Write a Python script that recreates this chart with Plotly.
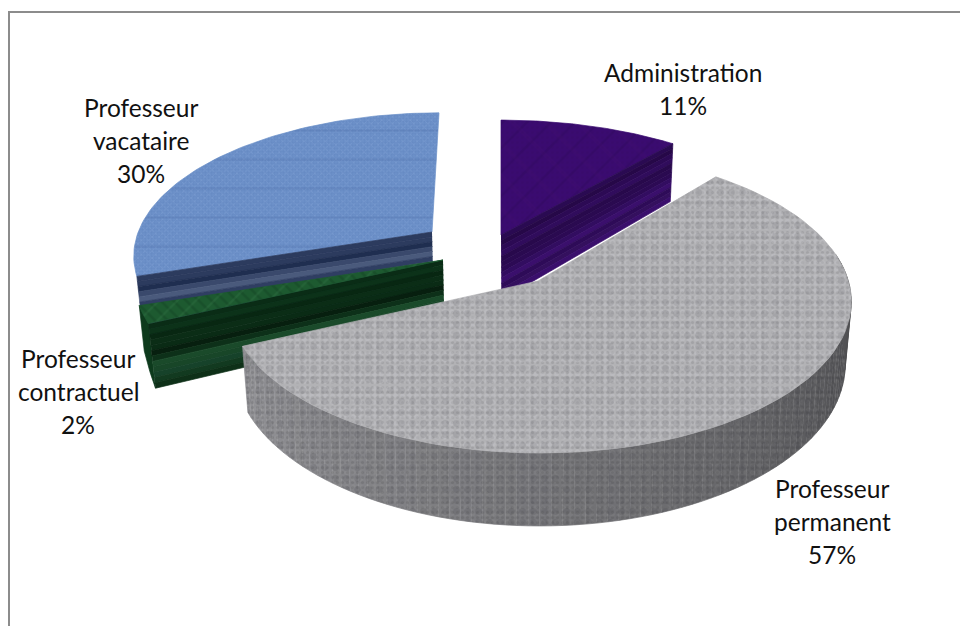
import numpy as np
import plotly.graph_objects as go

# ---- data ----
categories = ["Administration", "Professeur permanent", "Professeur contractuel", "Professeur vacataire"]
values = [11, 57, 2, 30]

# ---- drawing setup (one entry per category) ----
centers = [(501, 235), (540, 279), (443, 260), (432, 232)]
apexes = [(501, 235), (538, 281), (443, 260), (432, 232)]
scales = [0.93, 1.0, 0.97, 0.945]
x_factor = [1.03, 0.98, 1.0, 0.99]
y_factor = [0.98, 1.02, 1.0, 1.0]
depth_factor = [1.12, 1.0, 1.0, 1.0]
tilts = [0, 0, 0, 7]
top_base = ["#3a0b70", "#b2b2b5", "#1d5a30", "#6c90c8"]
top_textures = [
    [("/", 17, "rgba(30,5,70,0.35)", 0.15), ("\\", 23, "rgba(70,15,110,0.4)", 0.15), (".", 5, "rgba(50,10,90,0.35)", 0.3)],
    [(".", 5, "rgba(120,120,125,0.55)", 0.3), (".", 7, "rgba(215,215,218,0.45)", 0.35), (".", 11, "rgba(110,110,115,0.4)", 0.3)],
    [("\\", 9, "rgba(10,50,25,0.5)", 0.3), ("/", 13, "rgba(80,150,100,0.3)", 0.15)],
    [("x", 5, "rgba(170,198,236,0.45)", 0.22), ("+", 3, "rgba(60,95,160,0.35)", 0.25), ("-", 29, "rgba(50,80,140,0.3)", 0.08)],
]
wall_stripes = [
    ["#2a0a52", "#260848", "#2c0a54", "#300c5c", "#28094c", "#2a0a50", "#2c0a54", "#320d60", "#3a0f6c", "#2e0b58", "#34105e", "#3a0f6c"],
    None,
    ["#0a2c16", "#0c3219", "#082712", "#0b2d16", "#0a2b15", "#071f0f", "#0d3019", "#1a4a2a", "#184628", "#16422a", "#123a20", "#0e3018"],
    ["#2c3b5e", "#2c3b5e", "#1f2e50", "#3a496c", "#4a5a7c", "#2f3e62", "#414f72", "#3c4b6e", "#2a3a5c", "#4a5a7c", "#55658a", "#5a6a8e"],
]
label_pos = [(683, 72), (832, 488), (78, 358), (141, 107)]
line_step = 33
RX, RY, K, DEPTH = 314, 145, 0.15, 62
VANISH_X, CONVERGE = 520, 0.018


def project(theta, i):
    """Map a pie angle (radians, clockwise from north) of slice i to the picture."""
    u, v = np.sin(theta), np.cos(theta)
    s = scales[i] / (1 + K * v)
    x = centers[i][0] + RX * x_factor[i] * u * s + tilts[i] * v
    y = centers[i][1] - RY * y_factor[i] * v * s
    return x, y, DEPTH * s * depth_factor[i]


def lower(x, d):
    """x of the point reached by going d pixels down a side wall."""
    return x - (x - VANISH_X) * CONVERGE * d / DEPTH


fractions = np.array(values) / sum(values)
edges = np.concatenate([[0], np.cumsum(fractions)]) * 2 * np.pi
fig = go.Figure()


def poly(xs, ys, color=None, name=None):
    fig.add_trace(go.Scatter(x=list(xs), y=list(ys), mode="lines", fill="toself", fillcolor=color,
                             line=dict(width=0.7, color=color), hoverinfo="skip", showlegend=False, name=name))


def texture(xs, ys, tex):
    for shape, size, fg, solidity in tex:
        fig.add_trace(go.Scatter(x=list(xs), y=list(ys), mode="lines", fill="toself", line=dict(width=0),
                                 fillcolor="rgba(0,0,0,0)",
                                 fillpattern=dict(shape=shape, size=size, fgcolor=fg, bgcolor="rgba(0,0,0,0)",
                                                  solidity=solidity),
                                 hoverinfo="skip", showlegend=False))


def mix(a, b, t):
    return "rgb(%d,%d,%d)" % tuple(round(p + (q - p) * t) for p, q in zip(a, b))


def draw_radial_wall(i, theta):
    ax, ay = apexes[i]
    ex, ey, ed = project(theta, i)
    ad = DEPTH * scales[i] * depth_factor[i]
    n = len(wall_stripes[i])
    for k, c in enumerate(wall_stripes[i]):
        t0, t1 = k / n, (k + 1) / n
        poly([lower(ax, ad * t0), lower(ex, ed * t0), lower(ex, ed * t1), lower(ax, ad * t1)],
             [ay + ad * t0, ey + ed * t0, ey + ed * t1, ay + ad * t1], color=c)


def draw_top(i):
    th = np.linspace(edges[i], edges[i + 1], 80)
    x, y, _ = project(th, i)
    ax, ay = apexes[i]
    xs = np.concatenate([[ax], x, [ax]])
    ys = np.concatenate([[ay], y, [ay]])
    poly(xs, ys, color=top_base[i], name=categories[i])
    texture(xs, ys, top_textures[i])


# vacataire (furthest back)
draw_top(3)
draw_radial_wall(3, edges[3])
# administration
draw_top(0)
draw_radial_wall(0, edges[1])
# contractuel
th = np.linspace(edges[2], edges[3], 12)
x, y, d = project(th, 2)
d = d * np.linspace(1, 0.72, len(th))
poly(np.concatenate([x, lower(x, d)[::-1]]), np.concatenate([y, (y + d)[::-1]]), color="#0d3a1c")
draw_radial_wall(2, edges[2])
draw_top(2)
# permanent (front)
th = np.linspace(np.radians(80), edges[2], 90)
x, y, d = project(th, 1)
xb = lower(x, d)
for k in range(len(th) - 1):
    t = (np.degrees(th[k]) - 80) / (np.degrees(edges[2]) - 80)
    c = mix((62, 62, 64), (146, 146, 150), min(1, t ** 0.8))
    poly([x[k], x[k + 1], xb[k + 1], xb[k]], [y[k], y[k + 1], y[k + 1] + d[k + 1], y[k] + d[k]], color=c)
texture(np.concatenate([x, xb[::-1]]), np.concatenate([y, (y + d)[::-1]]),
        [(".", 5, "rgba(50,50,54,0.3)", 0.3), (".", 7, "rgba(175,175,180,0.2)", 0.35), (".", 11, "rgba(50,50,54,0.25)", 0.3)])
draw_top(1)

annotations = []
for name, val, (lx, ly) in zip(categories, values, label_pos):
    lines = name.split(" ") + [f"{val}%"]
    for j, text in enumerate(lines):
        annotations.append(dict(x=lx, y=ly + j * line_step, text=text, showarrow=False, xanchor="center",
                                yanchor="middle", font=dict(family="Lato", size=24.5, color="#111111")))

fig.update_layout(
    width=960, height=626, margin=dict(l=0, r=0, t=0, b=0), paper_bgcolor="white", plot_bgcolor="white",
    xaxis=dict(range=[0, 960], visible=False, fixedrange=True),
    yaxis=dict(range=[626, 0], visible=False, fixedrange=True),
    annotations=annotations, showlegend=False,
    shapes=[dict(type="rect", xref="x", yref="y", x0=9, y0=12, x1=975, y1=640,
                 line=dict(color="#8c8c8c", width=2), layer="below")],
)
fig.write_html("out.html", config=dict(displayModeBar=False),
               post_script="document.body.style.margin='0';document.documentElement.style.overflow='hidden';")
